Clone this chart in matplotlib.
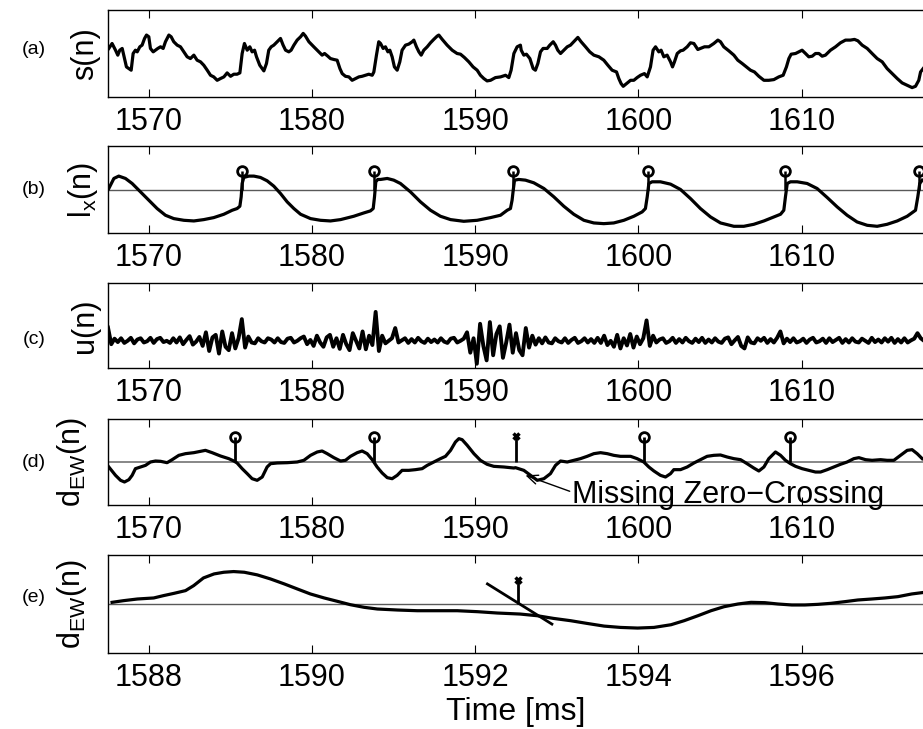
import numpy as np
import matplotlib
matplotlib.use("Agg")
import matplotlib.pyplot as plt

plt.rcParams['font.family'] = ['Liberation Sans', 'DejaVu Sans']
plt.rcParams['mathtext.fontset'] = 'custom'
plt.rcParams['mathtext.rm'] = 'Liberation Sans'

# (a) speech signal s(n)
s_t = [1567.55, 1567.75, 1567.96, 1568.10, 1568.22, 1568.37, 1568.51, 1568.63, 1568.78, 1568.92,
       1569.04, 1569.18, 1569.29, 1569.45, 1569.59, 1569.74, 1569.86, 1570.00, 1570.10, 1570.27,
       1570.41, 1570.55, 1570.72, 1570.88, 1571.02, 1571.23, 1571.37, 1571.53, 1571.74, 1571.94,
       1572.15, 1572.35, 1572.55, 1572.76, 1572.96, 1573.17, 1573.37, 1573.58, 1573.78, 1573.98,
       1574.19, 1574.39, 1574.60, 1574.80, 1575.01, 1575.21, 1575.41, 1575.58, 1575.72, 1575.86,
       1576.03, 1576.19, 1576.33, 1576.48, 1576.60, 1576.80, 1577.05, 1577.21, 1577.35, 1577.50,
       1577.66, 1577.87, 1578.07, 1578.23, 1578.38, 1578.58, 1578.72, 1578.89, 1579.09, 1579.30,
       1579.46, 1579.60, 1579.81, 1580.11, 1580.42, 1580.62, 1580.77, 1580.97, 1581.13, 1581.34,
       1581.54, 1581.71, 1581.85, 1582.05, 1582.26, 1582.46, 1582.67, 1582.87, 1583.07, 1583.28,
       1583.48, 1583.69, 1583.79, 1583.95, 1584.09, 1584.20, 1584.36, 1584.50, 1584.65, 1584.77,
       1584.91, 1585.05, 1585.22, 1585.38, 1585.52, 1585.73, 1585.93, 1586.14, 1586.24, 1586.40,
       1586.55, 1586.69, 1586.85, 1587.06, 1587.26, 1587.46, 1587.67, 1587.77, 1587.98, 1588.28,
       1588.59, 1588.89, 1589.10, 1589.34, 1589.61, 1589.87, 1590.12, 1590.32, 1590.53, 1590.73,
       1590.94, 1591.24, 1591.55, 1591.86, 1592.06, 1592.20, 1592.37, 1592.57, 1592.77, 1592.82,
       1592.98, 1593.14, 1593.35, 1593.55, 1593.69, 1593.84, 1594.00, 1594.16, 1594.41, 1594.57,
       1594.78, 1594.92, 1595.06, 1595.23, 1595.43, 1595.64, 1595.84, 1596.04, 1596.29, 1596.49,
       1596.76, 1597.02, 1597.27, 1597.58, 1597.88, 1598.13, 1598.39, 1598.66, 1598.80, 1598.94,
       1599.07, 1599.27, 1599.52, 1599.72, 1599.92, 1600.13, 1600.37, 1600.54, 1600.74, 1600.90,
       1601.05, 1601.25, 1601.39, 1601.56, 1601.76, 1601.97, 1602.09, 1602.21, 1602.38, 1602.58,
       1602.74, 1602.99, 1603.19, 1603.40, 1603.64, 1603.80, 1604.05, 1604.32, 1604.62, 1604.87,
       1605.03, 1605.23, 1605.54, 1605.85, 1606.09, 1606.36, 1606.62, 1606.87, 1607.11, 1607.38,
       1607.69, 1607.99, 1608.30, 1608.60, 1608.87, 1609.07, 1609.22, 1609.36, 1609.63, 1609.83,
       1610.03, 1610.24, 1610.44, 1610.65, 1610.85, 1611.06, 1611.26, 1611.46, 1611.77, 1612.08,
       1612.38, 1612.69, 1612.99, 1613.24, 1613.45, 1613.71, 1614.02, 1614.32, 1614.63, 1614.94,
       1615.24, 1615.55, 1615.86, 1616.16, 1616.47, 1616.77, 1616.98, 1617.18, 1617.29, 1617.45]
s_v = [55.8, 61.5, 53.8, 48.1, 53.8, 55.8, 44.2, 34.6, 32.7, 30.8,
       50.0, 53.8, 51.9, 57.7, 59.6, 67.3, 71.2, 69.2, 55.8, 51.9,
       53.8, 55.8, 57.7, 55.8, 63.5, 71.2, 69.2, 63.5, 59.6, 57.7,
       51.9, 46.2, 44.2, 48.1, 42.3, 40.4, 36.5, 30.8, 25.0, 23.1,
       19.2, 21.2, 23.1, 27.7, 23.8, 26.2, 26.2, 27.7, 50.0, 61.5,
       53.8, 57.7, 51.9, 53.8, 46.2, 36.5, 30.0, 38.5, 53.8, 57.7,
       59.6, 63.5, 67.3, 59.6, 53.8, 51.9, 53.8, 59.6, 65.4, 69.2,
       73.1, 70.0, 63.5, 57.7, 51.9, 48.1, 50.0, 46.9, 44.2, 43.1,
       42.3, 32.7, 26.9, 23.8, 23.1, 19.2, 21.2, 23.1, 23.8, 25.0,
       26.2, 25.0, 28.8, 48.1, 63.5, 61.5, 55.8, 57.7, 51.9, 53.8,
       46.2, 34.6, 30.8, 40.4, 53.8, 59.6, 60.8, 63.5, 65.4, 57.7,
       51.9, 48.1, 53.8, 57.7, 62.3, 66.2, 70.0, 71.2, 66.2, 59.6,
       53.8, 50.0, 49.2, 45.4, 40.4, 34.6, 30.8, 25.0, 21.2, 18.5,
       19.2, 22.3, 23.1, 25.0, 22.3, 30.8, 50.0, 57.7, 59.6, 53.8,
       48.1, 49.2, 44.2, 32.7, 30.8, 38.5, 51.9, 55.8, 55.8, 59.6,
       63.5, 59.6, 53.8, 50.0, 53.8, 57.7, 59.6, 63.5, 68.5, 63.5,
       57.7, 51.9, 48.1, 46.2, 42.3, 36.5, 30.8, 28.8, 21.2, 15.4,
       12.3, 15.4, 19.2, 19.2, 22.3, 25.0, 26.9, 23.1, 34.6, 53.8,
       57.7, 51.9, 53.8, 46.2, 48.1, 40.4, 34.6, 40.4, 50.0, 53.1,
       53.8, 57.7, 62.3, 61.5, 54.6, 55.8, 57.7, 57.7, 61.5, 65.4,
       63.5, 57.7, 53.1, 48.1, 42.3, 38.5, 34.6, 30.8, 28.8, 23.8,
       19.2, 19.2, 20.0, 23.1, 25.0, 34.6, 44.2, 49.2, 50.0, 51.9,
       53.8, 50.0, 46.2, 46.9, 50.0, 50.0, 46.9, 48.1, 53.8, 57.7,
       62.3, 65.4, 65.4, 66.2, 64.6, 59.6, 55.8, 50.0, 44.2, 40.4,
       32.7, 26.9, 21.2, 16.2, 13.5, 10.8, 12.3, 19.2, 28.8, 32.7]

# (b) l_x(n)
l_t = [1567.55, 1567.86, 1568.16, 1568.57, 1568.98, 1569.49, 1570.00, 1570.51, 1571.02, 1571.53,
       1572.15, 1572.76, 1573.37, 1573.98, 1574.60, 1575.11, 1575.41, 1575.58, 1575.66, 1575.72,
       1575.82, 1576.13, 1576.44, 1576.84, 1577.25, 1577.66, 1578.07, 1578.48, 1578.89, 1579.30,
       1579.91, 1580.52, 1581.13, 1581.75, 1582.56, 1583.18, 1583.58, 1583.75, 1583.83, 1583.91,
       1584.03, 1584.20, 1584.61, 1585.01, 1585.42, 1586.03, 1586.65, 1587.26, 1587.87, 1588.49,
       1589.30, 1590.12, 1590.94, 1591.55, 1591.96, 1592.16, 1592.26, 1592.33, 1592.41, 1592.67,
       1593.08, 1593.59, 1594.21, 1594.82, 1595.43, 1596.04, 1596.66, 1597.27, 1597.88, 1598.49,
       1599.11, 1599.72, 1600.23, 1600.43, 1600.54, 1600.64, 1600.84, 1601.35, 1601.97, 1602.58,
       1603.19, 1603.80, 1604.42, 1605.03, 1605.85, 1606.46, 1607.07, 1607.69, 1608.30, 1608.71,
       1608.91, 1609.01, 1609.12, 1609.32, 1609.73, 1610.34, 1610.95, 1611.57, 1612.18, 1612.79,
       1613.40, 1614.02, 1614.63, 1615.24, 1615.86, 1616.47, 1616.98, 1617.12, 1617.24, 1617.39]
l_v = [2.3, 25.4, 30.8, 25.4, 13.8, -5.4, -24.6, -43.8, -59.2, -66.9,
       -70.8, -72.3, -69.2, -64.6, -56.9, -47.7, -43.8, -38.5, -16.9, 13.8,
       27.7, 30.8, 30.8, 27.7, 20.0, 7.7, -9.2, -28.5, -43.8, -56.9,
       -66.9, -70.8, -72.3, -69.2, -61.5, -53.8, -49.2, -43.8, -16.9, 17.7,
       23.1, 23.1, 25.4, 21.5, 13.8, -5.4, -28.5, -47.7, -61.5, -69.2,
       -73.1, -70.8, -64.6, -59.2, -47.7, -43.8, -24.6, -1.5, 21.5, 23.1,
       21.5, 15.4, 2.3, -16.9, -38.5, -56.9, -70.8, -76.9, -78.5, -76.9,
       -70.8, -61.5, -51.5, -43.8, -16.9, 13.8, 17.7, 17.7, 12.3, 0.0,
       -20.8, -43.8, -63.1, -76.9, -84.6, -84.6, -80.0, -72.3, -63.1, -56.9,
       -47.7, -16.9, 13.8, 17.7, 17.7, 13.8, 2.3, -18.5, -40.0, -59.2,
       -74.6, -82.3, -84.6, -80.0, -72.3, -61.5, -47.7, -16.9, 13.8, 21.5]
gci_b = [1575.7, 1583.8, 1592.3, 1600.6, 1609.0, 1617.2]

# (c) u(n), sampled every 0.2 ms from 1567.5 ms
u_v = [-5, -44, -31, -39, -30, -41, -36, -29, -42, -33,
       -30, -40, -37, -29, -41, -32, -29, -39, -36, -41,
       -30, -40, -28, -44, -34, -25, -45, -38, -27, -48,
       -16, -60, -28, -22, -66, -14, -50, -58, -18, -54,
       -30, 15, -52, -26, -40, -42, -30, -37, -40, -30,
       -33, -40, -30, -39, -41, -31, -29, -40, -36, -30,
       -26, -44, -34, -48, -24, -40, -50, -28, -22, -50,
       -30, -55, -22, -44, -58, -18, -36, -54, -14, -56,
       -24, -46, 32, -60, -24, -42, -36, -30, -6, -40,
       -35, -30, -41, -32, -40, -29, -37, -41, -31, -39,
       -33, -40, -30, -38, -41, -31, -29, -40, -36, -31,
       -16, -64, -30, -90, 4, -48, -82, 8, -70, -20,
       -2, -76, -40, 2, -64, -18, -58, -70, -6, -52,
       -24, -45, -30, -42, -28, -40, -42, -30, -37, -40,
       -30, -41, -34, -29, -41, -37, -30, -40, -32, -41,
       -29, -41, -24, -46, -36, -50, -22, -54, -30, -47,
       -20, -52, -26, -44, -30, 12, -48, -24, -40, -33,
       -30, -41, -37, -29, -41, -32, -40, -29, -37, -41,
       -31, -39, -29, -41, -33, -40, -30, -38, -41, -31,
       -28, -44, -35, -27, -48, -54, -28, -40, -42, -30,
       -36, -29, -41, -32, -40, -29, -14, -42, -31, -39,
       -30, -40, -37, -31, -41, -33, -29, -40, -37, -31,
       -41, -30, -39, -34, -29, -41, -32, -40, -30, -38,
       -40, -31, -36, -41, -29, -39, -33, -40, -30, -38,
       -29, -41, -32, -40, -30, -40, -35, -31, -18, -30, -36]
u_t = np.linspace(1567.5, 1617.5, len(u_v))

# (d) d_EW(n)
d_t = [1567.55, 1567.96, 1568.27, 1568.51, 1568.78, 1568.98, 1569.18, 1569.49, 1569.80, 1570.10,
       1570.41, 1570.72, 1571.12, 1571.43, 1571.84, 1572.25, 1572.76, 1573.17, 1573.47, 1573.88,
       1574.39, 1574.90, 1575.21, 1575.41, 1575.72, 1576.03, 1576.33, 1576.64, 1576.95, 1577.25,
       1577.46, 1577.87, 1578.48, 1579.09, 1579.50, 1579.91, 1580.32, 1580.62, 1580.93, 1581.34,
       1581.75, 1582.05, 1582.36, 1582.77, 1583.07, 1583.38, 1583.69, 1583.99, 1584.30, 1584.61,
       1584.91, 1585.22, 1585.52, 1585.93, 1586.34, 1586.75, 1587.06, 1587.46, 1587.87, 1588.18,
       1588.49, 1588.79, 1589.00, 1589.20, 1589.51, 1589.92, 1590.32, 1590.73, 1591.14, 1591.75,
       1592.37, 1592.47, 1592.98, 1593.39, 1593.80, 1594.21, 1594.61, 1594.92, 1595.23, 1595.64,
       1596.04, 1596.45, 1596.86, 1597.27, 1597.68, 1598.09, 1598.49, 1598.90, 1599.52, 1599.92,
       1600.33, 1600.64, 1600.95, 1601.35, 1601.66, 1601.97, 1602.17, 1602.58, 1602.99, 1603.40,
       1603.80, 1604.21, 1604.62, 1605.03, 1605.44, 1605.85, 1606.26, 1606.66, 1607.07, 1607.38,
       1607.69, 1607.99, 1608.40, 1608.71, 1609.01, 1609.32, 1609.63, 1610.03, 1610.44, 1610.85,
       1611.16, 1611.57, 1611.97, 1612.38, 1612.79, 1613.20, 1613.51, 1613.92, 1614.32, 1614.84,
       1615.24, 1615.65, 1616.06, 1616.47, 1616.77, 1617.08, 1617.39]
d_v = [-11.6, -31.0, -42.6, -46.5, -41.1, -31.0, -15.5, -11.6, -7.8, 0.0,
       2.3, 1.6, -1.6, 5.4, 15.5, 19.4, 21.7, 24.8, 27.1, 21.7,
       14.0, 7.8, 2.3, -2.3, -15.5, -27.1, -38.8, -42.6, -34.9, -11.6,
       -3.9, -2.3, -1.6, 0.0, 3.9, 15.5, 23.3, 25.6, 19.4, 10.1,
       2.3, 3.9, 13.2, 21.7, 25.6, 19.4, 5.4, -11.6, -25.6, -36.4,
       -38.8, -31.0, -19.4, -19.4, -17.8, -15.5, -7.8, 0.0, 7.8, 13.2,
       27.1, 46.5, 54.3, 51.9, 38.8, 19.4, 3.9, -5.4, -10.1, -11.6,
       -14.0, -13.2, -19.4, -31.0, -42.6, -38.8, -27.1, -7.8, 2.3, 0.0,
       3.9, 7.8, 13.2, 19.4, 21.7, 19.4, 15.5, 13.2, 13.2, 7.8,
       0.0, -11.6, -20.9, -31.0, -34.9, -27.1, -17.8, -17.8, -11.6, -2.3,
       5.4, 13.2, 15.5, 16.3, 11.6, 7.8, 5.4, -3.9, -14.0, -20.9,
       -11.6, 7.8, 23.3, 15.5, 3.9, -3.9, -10.1, -15.5, -19.4, -23.3,
       -23.3, -17.8, -11.6, -5.4, 0.0, 7.8, 10.1, 5.4, 3.9, 5.4,
       3.9, 3.9, 15.5, 27.1, 28.7, 19.4, 7.8]
gci_d = [1575.31, 1583.79, 1600.34, 1609.28]
miss_d = 1592.47

# (e) d_EW(n), zoomed
e_t = [1587.55, 1587.69, 1587.86, 1588.06, 1588.18, 1588.31, 1588.45, 1588.55, 1588.67, 1588.80,
       1588.92, 1589.04, 1589.17, 1589.33, 1589.49, 1589.66, 1589.82, 1589.98, 1590.15, 1590.31,
       1590.47, 1590.64, 1590.80, 1591.05, 1591.29, 1591.54, 1591.78, 1592.03, 1592.27, 1592.55,
       1592.76, 1592.96, 1593.17, 1593.37, 1593.58, 1593.78, 1593.99, 1594.19, 1594.40, 1594.56,
       1594.73, 1594.89, 1595.05, 1595.22, 1595.38, 1595.55, 1595.71, 1595.88, 1596.04, 1596.20,
       1596.36, 1596.53, 1596.69, 1596.86, 1597.02, 1597.18, 1597.35, 1597.51]
e_v = [3.4, 6.8, 10.2, 12.3, 17.1, 21.8, 27.3, 37.5, 53.2, 61.4,
       64.8, 66.2, 64.8, 59.4, 51.2, 41.0, 30.7, 20.5, 12.3, 5.5,
       -1.4, -6.8, -10.2, -12.3, -13.7, -13.7, -13.7, -15.7, -18.4, -20.5,
       -23.9, -29.4, -34.1, -39.6, -45.1, -47.8, -49.1, -47.8, -42.3, -34.1,
       -23.9, -13.7, -5.5, 0.0, 3.4, 2.7, 0.0, -2.0, -2.0, -0.7,
       1.4, 4.8, 8.2, 10.2, 12.3, 15.0, 20.5, 23.9]
tan_t = [1592.15, 1592.94]
tan_v = [41.0, -41.0]
miss_e = 1592.53

fig = plt.figure(figsize=(9.23, 7.29), dpi=100)

def px_axes(top, bottom):
    return fig.add_axes([108 / 923, 1 - bottom / 729, 816 / 923, (bottom - top) / 729])

ax_a = px_axes(10, 97)
ax_b = px_axes(146, 233)
ax_c = px_axes(283, 368)
ax_d = px_axes(419, 505)
ax_e = px_axes(555, 653)

lw = 2.3
ax_a.plot(s_t, s_v, color='k', lw=lw)
ax_a.set_ylim(0, 100)

ax_b.axhline(0, color='0.35', lw=1)
ax_b.plot(l_t, l_v, color='k', lw=lw)
ax_b.vlines(gci_b, 0, 42, color='k', lw=1.8)
ax_b.plot(gci_b, [42] * len(gci_b), 'o', mfc='none', mec='k', ms=7, mew=2, clip_on=False)
ax_b.set_ylim(-100, 100)

ax_c.plot(u_t, u_v, color='k', lw=2.8)
ax_c.set_ylim(-100, 100)

ax_d.axhline(0, color='0.45', lw=1.2)
ax_d.plot(d_t, d_v, color='k', lw=lw)
ax_d.vlines(gci_d, 0, 57, color='k', lw=2)
ax_d.plot(gci_d, [57] * len(gci_d), 'o', mfc='none', mec='k', ms=7, mew=2)
ax_d.vlines([miss_d], 0, 57, color='k', lw=2)
ax_d.plot([miss_d], [60], 'x', color='k', ms=5, mew=2.5)
ax_d.set_ylim(-100, 100)
ax_d.annotate('Missing Zero\u2212Crossing', xy=(1593.08, -31), xytext=(1595.96, -96),
              ha='left', va='baseline', fontsize=22, annotation_clip=False, zorder=5,
              arrowprops=dict(arrowstyle='->,head_length=0.35,head_width=0.15', color='k',
                              lw=1, shrinkA=0, shrinkB=0, relpos=(0, 0.6)))

ax_e.axhline(0, color='0.35', lw=1)
ax_e.plot(e_t, e_v, color='k', lw=lw)
ax_e.plot(tan_t, tan_v, color='k', lw=2)
ax_e.vlines([miss_e], 0, 47, color='k', lw=2)
ax_e.plot([miss_e], [49], 'x', color='k', ms=5, mew=2.5)
ax_e.set_ylim(-100, 100)

for ax in [ax_a, ax_b, ax_c, ax_d]:
    ax.set_xlim(1567.5, 1617.5)
    ax.set_xticks([1570, 1580, 1590, 1600, 1610])
ax_e.set_xlim(1587.5, 1597.5)
ax_e.set_xticks([1588, 1590, 1592, 1594, 1596])

ylabels = ['s(n)', r'l$_\mathregular{x}$(n)', 'u(n)',
           r'd$_\mathregular{EW}$(n)', r'd$_\mathregular{EW}$(n)']
pads = [6, 6, 6, 14, 14]
for ax, lab, pad in zip([ax_a, ax_b, ax_c, ax_d, ax_e], ylabels, pads):
    ax.set_yticks([])
    ax.set_ylabel(lab, fontsize=22, labelpad=pad)
    ax.tick_params(axis='x', direction='in', top=True, bottom=True, length=6,
                   width=0.8, labelsize=22, pad=7)
    for sp in ax.spines.values():
        sp.set_linewidth(1.0)

ax_e.set_xlabel('Time [ms]', fontsize=23, labelpad=3)

for lab, y in zip(['(a)', '(b)', '(c)', '(d)', '(e)'], [50, 190, 339, 463, 598]):
    fig.text(34 / 923, 1 - y / 729, lab, fontsize=14, ha='center', va='center')

fig.savefig('out.png', dpi=100)
